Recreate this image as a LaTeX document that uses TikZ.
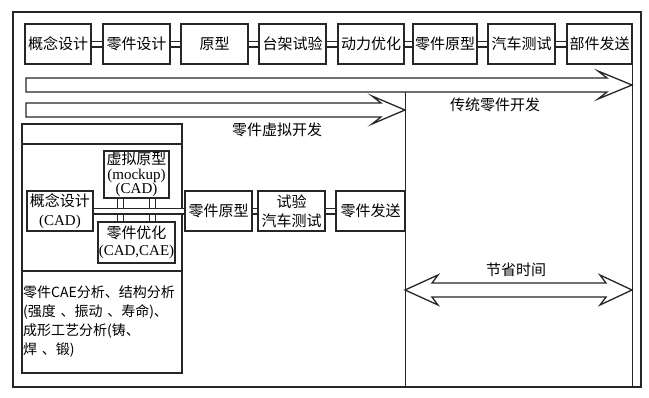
\documentclass[tikz,border=0pt]{standalone}
\usepackage{fontspec}
\setmainfont{Liberation Serif}
\newfontfamily\cjk{Noto Sans CJK SC}

\begin{document}
\begin{tikzpicture}[x=1pt,y=-1pt,
  box/.style={draw=black!85,line width=1.3pt,fill=white,inner sep=0pt,align=center,
    minimum width=66pt,minimum height=40pt,font=\cjk\fontsize{15}{19}\selectfont},
  link/.style={draw=black!85,line width=1.2pt,double=white,double distance=4.6pt},
  wall/.style={draw=black!85,line width=1.1pt},
  bigarrow/.style={draw=black!85,line width=1.3pt,line join=miter,fill=white},
  lbl/.style={font=\cjk\fontsize{15}{19}\selectfont,inner sep=0pt}]
\useasboundingbox (0,0) rectangle (649,397);
\draw[wall] (13,12) rectangle (641,387);
\coordinate (floor) at (0,387);
\coordinate (shaft) at (0,92);
\node[box] (concept) at (58,44) {概念设计};
\node[box,minimum width=67pt] (partdesign) at (136.5,44) {零件设计};
\node[box,minimum width=67pt] (proto) at (214.5,44) {原型};
\node[box,minimum width=67pt] (rig) at (292.5,44) {台架试验};
\node[box] (power) at (371,44) {动力优化};
\node[box,minimum width=64pt] (partproto) at (445,44) {零件原型};
\node[box,minimum width=67pt] (cartest) at (521.5,44) {汽车测试};
\node[box,minimum width=65pt] (ship) at (599.5,44) {部件发送};
\draw[link] (concept.east) -- (partdesign.west);
\draw[link] (partdesign.east) -- (proto.west);
\draw[link] (proto.east) -- (rig.west);
\draw[link] (rig.east) -- (power.west);
\draw[link] (power.east) -- (partproto.west);
\draw[link] (partproto.east) -- (cartest.west);
\draw[link] (cartest.east) -- (ship.west);
\draw[wall] (ship.south east) -- (ship.south east |- floor);
\draw[bigarrow] (26,78) -- (607,78) -- (598,71) -- (632,85) -- (598,99) -- (607,92) -- (26,92) -- cycle;
\draw[bigarrow] (26,103) -- (381,103) -- (372,96) -- (405,110) -- (372,124) -- (381,117) -- (26,117) -- cycle;
\node[lbl] (virtual) at (277,130) {零件虚拟开发};
\node[lbl] (classic) at (495,105) {传统零件开发};
\draw[wall] (22,124) rectangle (182,373);
\draw[wall] (22,144) -- (182,144);
\draw[wall] (22,271) -- (182,271);
\node[box] (cad) at (60,211) {概念设计\\{\rmfamily (CAD)}};
\node[box,minimum width=65pt,minimum height=47pt,font=\cjk\fontsize{15}{14.5}\selectfont] (mock) at (136.5,174.5) {虚拟原型\\{\rmfamily (mockup)}\\{\rmfamily (CAD)}};
\node[box,minimum width=77pt,minimum height=41pt,font=\cjk\fontsize{15}{17}\selectfont] (opt) at (136.5,242.5) {零件优化\\{\rmfamily (CAD,CAE)}};
\node[box,minimum width=67pt] (vproto) at (218.5,211) {零件原型};
\node[box,minimum width=67pt] (test) at (291.5,211) {试验\\汽车测试};
\node[box,minimum width=69pt] (send) at (370.5,211) {零件发送};
\draw[link] ([xshift=-16pt]mock.south) -- ([xshift=-16pt]opt.north);
\draw[link] ([xshift=16pt]mock.south) -- ([xshift=16pt]opt.north);
\draw[link] (cad.east) -- (vproto.west);
\draw[link] (vproto.east) -- (test.west);
\draw[link] (test.east) -- (send.west);
\draw[wall] (shaft -| send.east) -- (floor -| send.east);
\node[lbl,anchor=north west,align=left,text width=160pt,font=\cjk\fontsize{14}{18.7}\selectfont] (cae) at (23,286) {零件CAE分析、结构分析\\(强度 、振动 、寿命)、\\成形工艺分析(铸、\\焊 、锻)};
\draw[bigarrow] (405,290) -- (438,275) -- (432,283) -- (606,283) -- (600,275) -- (632,290) -- (600,305) -- (606,297) -- (432,297) -- (438,305) -- cycle;
\node[lbl] (saved) at (516,270) {节省时间};
\end{tikzpicture}
\end{document}
